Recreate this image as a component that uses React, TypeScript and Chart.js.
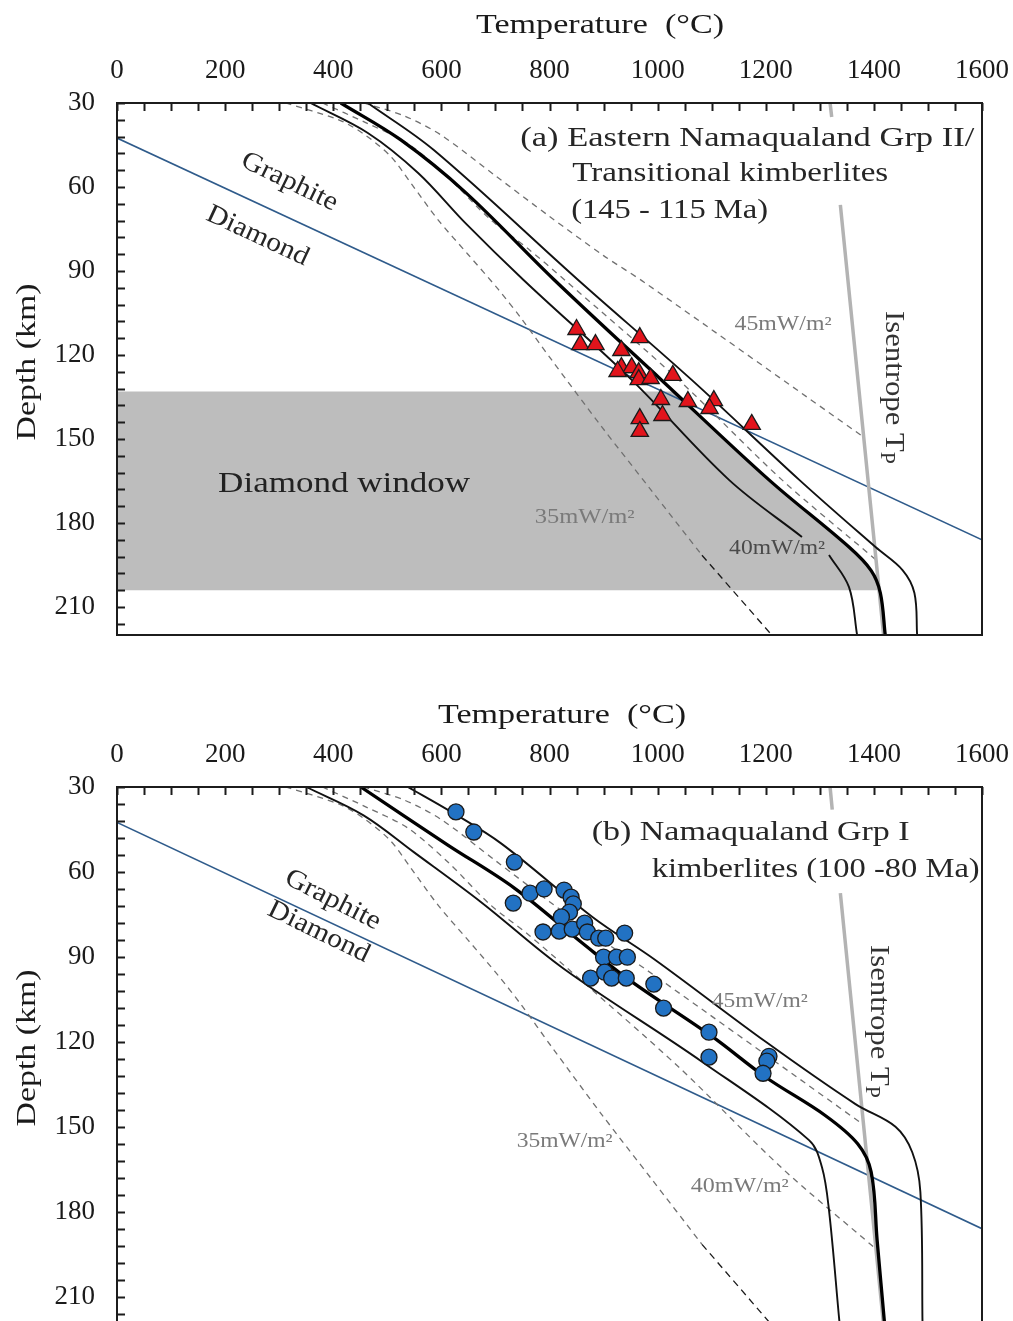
import { useEffect, useRef } from 'react';
import { Chart, registerables } from 'chart.js';

Chart.register(...registerables);

type Pt = [number, number] | null;

const FONT = '"Liberation Serif", "DejaVu Serif", serif';
Chart.defaults.font.family = FONT;

// ---- axes ----
const TEMP_LABELS = [0, 200, 400, 600, 800, 1000, 1200, 1400, 1600];
const DEPTH_LABELS = [30, 60, 90, 120, 150, 180, 210];
const TEMP_RANGE = [0, 1600];
const DEPTH_RANGE = [30, 220];
const TEMP_MINOR_STEP = 50;
const DEPTH_MINOR_STEP = 6;

// ---- shared reference curves [temperature °C, depth km] ----
const GRAPHITE_DIAMOND: Pt[] = [[0, 42.5], [1600, 186]];
const GEOTHERM_35: Pt[] = [[312, 30], [410, 36], [456, 41], [506, 49], [545, 59], [595, 72], [649, 84], [705, 96.5], [748, 107], [803, 121.5], [896, 145.5], [989, 168.5], [1082, 191.5], [1211, 220]];
const GEOTHERM_35_DARK_FROM = 191.5;
const GEOTHERM_40: Pt[] = [[380, 30], [460, 37], [538, 44.5], [612, 56.5], [690, 71.5], [760, 82], [830, 93.5], [1039, 128.9], [1230, 164.6], [1403, 193]];
const GEOTHERM_45: Pt[] = [[456, 30], [530, 34.5], [599, 41.4], [700, 56], [800, 70.5], [900, 84.5], [975, 94], [1381, 149.3]];

// ---- panel (a) ----
const ISENTROPE_A: Pt[] = [[1319, 30], [1322, 35], null, [1338, 66.4], [1418, 220]];
const A_LOW: Pt[] = [[358, 30], [464, 40.7], [557, 55], [645, 73], [752, 93.2], [952, 128.9], [1132, 164.6], [1267, 185], null, [1317, 191.4], [1354, 202.9], [1369, 220]];
const A_FIT: Pt[] = [[414, 30], [525, 43.2], [645, 62], [809, 93.2], [1007, 128.9], [1206, 164.6], [1354, 188.6], [1395, 197], [1412, 205], [1421, 220]];
const A_HIGH: Pt[] = [[464, 30], [586, 46.8], [853, 93.2], [1063, 128.9], [1262, 164.6], [1403, 188.6], [1453, 196.8], [1475, 205], [1480, 220]];
const A_SAMPLES: Pt[] = [[850, 110.9], [857, 116.3], [885, 116.3], [967, 113.8], [933, 118.4], [933, 124.5], [952, 124.5], [965, 126.3], [926, 125.9], [965, 128.8], [987, 128.4], [1028, 127.3], [1006, 135.9], [1056, 136.6], [1104, 136.3], [1096, 139.1], [1174, 144.8], [967, 142.7], [1009, 141.6], [967, 147.3]];
const DIAMOND_WINDOW = [133, 204];

// ---- panel (b) ----
const ISENTROPE_B: Pt[] = [[1319, 30], [1323, 38], null, [1338, 67.5], [1418, 220]];
const B_LOW: Pt[] = [[350, 30], [456, 40], [549, 53], [673, 70.6], [825, 94], [1082, 127], [1280, 154.7], [1304, 164.3], [1317, 179.5], [1336, 218.3], [1337, 220]];
const B_FIT: Pt[] = [[451, 30], [612, 50.5], [735, 65.7], [860, 85], [950, 98.5], [1100, 118], [1200, 132.5], [1310, 146], [1370, 156], [1395, 166], [1406, 190], [1420, 220]];
const B_HIGH: Pt[] = [[538, 30], [620, 39], [711, 50], [880, 76], [995, 91], [1200, 120], [1366, 142], [1440, 150], [1471, 159], [1486, 173], [1490, 220]];
const B_SAMPLES: Pt[] = [[627, 38.8], [660, 45.9], [735, 56.5], [733, 71], [764, 67.5], [790, 66], [827, 66.4], [840, 68.9], [844, 71.3], [837, 74.2], [822, 75.9], [788, 81.2], [818, 80.9], [842, 80.2], [865, 78.1], [870, 81.2], [891, 83.4], [904, 83.4], [939, 81.6], [900, 90.1], [924, 90.1], [944, 90.1], [876, 97.5], [902, 95.4], [915, 97.5], [942, 97.5], [993, 99.6], [1011, 108.1], [1095, 116.6], [1095, 125.4], [1206, 125.1], [1202, 126.8], [1195, 131.1]];

// ---- helpers ----
const toXY = (pts: Pt[]) => pts.map((p) => (p ? { x: p[0], y: p[1] } : { x: null, y: null }));

function tempAtDepth(curve: Pt[], d: number): number {
  const pts = curve.filter(Boolean) as [number, number][];
  for (let i = 0; i < pts.length - 1; i++) {
    const [t0, d0] = pts[i];
    const [t1, d1] = pts[i + 1];
    if (d >= d0 && d <= d1) return t0 + ((t1 - t0) * (d - d0)) / (d1 - d0);
  }
  return pts[pts.length - 1][0];
}

function windowPolygon(curve: Pt[], range: number[]): Pt[] {
  const [dTop, dBot] = range;
  const inner = (curve.filter(Boolean) as [number, number][]).filter((p) => p[1] > dTop && p[1] < dBot);
  return [[TEMP_RANGE[0], dTop], [tempAtDepth(curve, dTop), dTop], ...inner, [tempAtDepth(curve, dBot), dBot], [TEMP_RANGE[0], dBot]];
}

function lineDs(pts: Pt[], color: string, width: number, dash: number[], order: number, tension = 0.35) {
  return {
    data: toXY(pts),
    showLine: true,
    borderColor: color,
    borderWidth: width,
    borderDash: dash,
    pointRadius: 0,
    pointHoverRadius: 0,
    fill: false,
    spanGaps: false,
    tension,
    order,
  };
}

type Label = {
  text: string;
  sub?: string;
  x: number;
  y: number;
  px?: boolean;
  size: number;
  width: number;
  rot?: number;
  color?: string;
  align?: 'left' | 'center';
  baseline?: CanvasTextBaseline;
};

function labelsPlugin(labels: Label[]) {
  return {
    id: 'textLabels',
    afterDraw(chart: any) {
      const { ctx } = chart;
      const xs = chart.scales.x;
      const ys = chart.scales.y;
      for (const lb of labels) {
        const px = lb.px ? lb.x : xs.getPixelForValue(lb.x);
        const py = lb.px ? lb.y : ys.getPixelForValue(lb.y);
        ctx.save();
        ctx.translate(px, py);
        ctx.rotate(((lb.rot || 0) * Math.PI) / 180);
        ctx.font = `${lb.size}px ${FONT}`;
        const mainW = ctx.measureText(lb.text).width;
        let subW = 0;
        const subSize = Math.round(lb.size * 0.7);
        if (lb.sub) {
          ctx.font = `${subSize}px ${FONT}`;
          subW = ctx.measureText(lb.sub).width;
        }
        const natural = mainW + subW;
        ctx.scale(lb.width / natural, 1);
        const startX = lb.align === 'center' ? -natural / 2 : 0;
        ctx.fillStyle = lb.color || '#262626';
        ctx.textAlign = 'left';
        ctx.textBaseline = lb.baseline || 'alphabetic';
        ctx.font = `${lb.size}px ${FONT}`;
        ctx.fillText(lb.text, startX, 0);
        if (lb.sub) {
          ctx.font = `${subSize}px ${FONT}`;
          ctx.fillText(lb.sub, startX + mainW, lb.size * 0.25);
        }
        ctx.restore();
      }
    },
  };
}

const framePlugin = {
  id: 'frameTicks',
  afterDraw(chart: any) {
    const { ctx, chartArea: a } = chart;
    const xs = chart.scales.x;
    const ys = chart.scales.y;
    ctx.save();
    ctx.strokeStyle = '#1c1c1c';
    ctx.lineWidth = 2;
    ctx.strokeRect(a.left, a.top, a.right - a.left, a.bottom - a.top);
    ctx.beginPath();
    for (let v = TEMP_RANGE[0]; v <= TEMP_RANGE[1]; v += TEMP_MINOR_STEP) {
      const p = Math.round(xs.getPixelForValue(v)) + 0.5;
      ctx.moveTo(p, a.top);
      ctx.lineTo(p, a.top + 8);
    }
    for (let v = DEPTH_RANGE[0]; v < DEPTH_RANGE[1]; v += DEPTH_MINOR_STEP) {
      const p = Math.round(ys.getPixelForValue(v)) + 0.5;
      ctx.moveTo(a.left, p);
      ctx.lineTo(a.left + 8, p);
    }
    ctx.stroke();
    ctx.restore();
  },
};

type Panel = {
  low: Pt[];
  fit: Pt[];
  high: Pt[];
  isentrope: Pt[];
  samples: Pt[];
  marker: 'triangle' | 'circle';
  window?: number[];
  labels: Label[];
  axisTop: number;
  padBottom: number;
};

function makeConfig(p: Panel): any {
  const datasets: any[] = [];
  if (p.window) {
    datasets.push({
      data: toXY(windowPolygon(p.fit, p.window)),
      showLine: true,
      borderColor: 'rgba(0,0,0,0)',
      borderWidth: 1,
      backgroundColor: '#bdbdbd',
      fill: 'shape',
      pointRadius: 0,
      tension: 0,
      order: 20,
    });
  }
  datasets.push(lineDs(GRAPHITE_DIAMOND, '#2f5b8b', 1.6, [], 12, 0));
  const g35 = GEOTHERM_35 as [number, number][];
  datasets.push(lineDs(g35.filter((q) => q[1] <= GEOTHERM_35_DARK_FROM), '#707070', 1.3, [6, 5], 11, 0.3));
  datasets.push(lineDs(g35.filter((q) => q[1] >= GEOTHERM_35_DARK_FROM), '#1a1a1a', 1.3, [7, 5], 11, 0));
  datasets.push(lineDs(GEOTHERM_40, '#707070', 1.3, [6, 5], 11, 0.3));
  datasets.push(lineDs(GEOTHERM_45, '#707070', 1.3, [6, 5], 11, 0.3));
  datasets.push(lineDs(p.isentrope, '#b3b3b3', 3.5, [], 10, 0));
  datasets.push(lineDs(p.low, '#111111', 1.9, [], 8));
  datasets.push(lineDs(p.high, '#111111', 1.9, [], 8));
  datasets.push(lineDs(p.fit, '#000000', 3.3, [], 7));
  datasets.push({
    data: toXY(p.samples),
    showLine: false,
    pointStyle: p.marker,
    pointRadius: p.marker === 'triangle' ? 10 : 8,
    pointHoverRadius: p.marker === 'triangle' ? 10 : 8,
    backgroundColor: p.marker === 'triangle' ? '#e2141c' : '#2272c3',
    borderColor: '#1a1a1a',
    borderWidth: 1.3,
    order: 1,
  });

  const tickFont = { family: FONT, size: 27 };
  return {
    type: 'scatter',
    data: { datasets },
    options: {
      responsive: false,
      maintainAspectRatio: false,
      animation: false,
      events: [],
      layout: { padding: { left: 0, top: 0, right: 31, bottom: p.padBottom } },
      plugins: { legend: { display: false }, tooltip: { enabled: false } },
      scales: {
        x: {
          type: 'linear',
          position: 'top',
          min: TEMP_RANGE[0],
          max: TEMP_RANGE[1],
          grid: { display: false, drawTicks: false },
          border: { display: false },
          ticks: { font: tickFont, color: '#1a1a1a', padding: 16, maxRotation: 0, autoSkip: false, callback: (v: any) => String(v) },
          afterBuildTicks: (s: any) => {
            s.ticks = TEMP_LABELS.map((v) => ({ value: v }));
          },
          afterFit: (s: any) => {
            s.height = p.axisTop;
            s.paddingLeft = 0;
            s.paddingRight = 0;
          },
        },
        y: {
          type: 'linear',
          reverse: true,
          min: DEPTH_RANGE[0],
          max: DEPTH_RANGE[1],
          grid: { display: false, drawTicks: false },
          border: { display: false },
          ticks: { font: tickFont, color: '#1a1a1a', padding: 22, autoSkip: false, callback: (v: any) => String(v) },
          afterBuildTicks: (s: any) => {
            s.ticks = DEPTH_LABELS.map((v) => ({ value: v }));
          },
          afterFit: (s: any) => {
            s.width = 117;
            s.paddingTop = 0;
            s.paddingBottom = 0;
          },
        },
      },
    },
    plugins: [framePlugin, labelsPlugin(p.labels)],
  };
}

const MW_GRAY = '#7a7a7a';

const LABELS_A: Label[] = [
  { text: 'Temperature  (°C)', x: 600, y: 26, px: true, size: 28, width: 248, align: 'center', baseline: 'middle', color: '#1a1a1a' },
  { text: 'Depth (km)', x: 28, y: 362, px: true, size: 28, width: 157, rot: -90, align: 'center', baseline: 'middle', color: '#1a1a1a' },
  { text: '(a) Eastern Namaqualand Grp II/', x: 746, y: 45.2, size: 28, width: 454 },
  { text: 'Transitional kimberlites', x: 842, y: 57.9, size: 28, width: 316 },
  { text: '(145 - 115 Ma)', x: 840, y: 71.1, size: 28, width: 197 },
  { text: 'Graphite', x: 319, y: 58.2, size: 27, width: 104, rot: 26, align: 'center', baseline: 'middle' },
  { text: 'Diamond', x: 260, y: 77.5, size: 27, width: 110, rot: 25, align: 'center', baseline: 'middle' },
  { text: 'Diamond window', x: 187, y: 168.9, size: 30, width: 252, color: '#222' },
  { text: '45mW/m²', x: 1232, y: 109.3, size: 20, width: 97, align: 'center', baseline: 'middle', color: MW_GRAY },
  { text: '35mW/m²', x: 865, y: 178.2, size: 20, width: 100, align: 'center', baseline: 'middle', color: MW_GRAY },
  { text: '40mW/m²', x: 1221, y: 189.3, size: 20, width: 96, align: 'center', baseline: 'middle', color: '#4a4a4a' },
  { text: 'Isentrope T', sub: 'P', x: 1436, y: 104.3, size: 28, width: 153, rot: 90, baseline: 'middle', color: '#333' },
];

const LABELS_B: Label[] = [
  { text: 'Temperature  (°C)', x: 562, y: 66, px: true, size: 28, width: 248, align: 'center', baseline: 'middle', color: '#1a1a1a' },
  { text: 'Depth (km)', x: 28, y: 398, px: true, size: 28, width: 157, rot: -90, align: 'center', baseline: 'middle', color: '#1a1a1a' },
  { text: '(b) Namaqualand Grp I', x: 878, y: 48.7, size: 28, width: 318 },
  { text: 'kimberlites (100 -80 Ma)', x: 989, y: 61.8, size: 28, width: 328 },
  { text: 'Graphite', x: 399, y: 69.9, size: 27, width: 104, rot: 27, align: 'center', baseline: 'middle' },
  { text: 'Diamond', x: 373, y: 81.2, size: 27, width: 110, rot: 26, align: 'center', baseline: 'middle' },
  { text: '45mW/m²', x: 1189, y: 106, size: 20, width: 96, align: 'center', baseline: 'middle', color: MW_GRAY },
  { text: '35mW/m²', x: 828, y: 155.4, size: 20, width: 96, align: 'center', baseline: 'middle', color: MW_GRAY },
  { text: '40mW/m²', x: 1152, y: 171.3, size: 20, width: 98, align: 'center', baseline: 'middle', color: MW_GRAY },
  { text: 'Isentrope T', sub: 'P', x: 1408, y: 85.8, size: 28, width: 153, rot: 90, baseline: 'middle', color: '#333' },
];

export default function App() {
  const topRef = useRef<HTMLCanvasElement>(null);
  const botRef = useRef<HTMLCanvasElement>(null);

  useEffect(() => {
    const a = new Chart(
      topRef.current as HTMLCanvasElement,
      makeConfig({ low: A_LOW, fit: A_FIT, high: A_HIGH, isentrope: ISENTROPE_A, samples: A_SAMPLES, marker: 'triangle', window: DIAMOND_WINDOW, labels: LABELS_A, axisTop: 103, padBottom: 15 })
    );
    const b = new Chart(
      botRef.current as HTMLCanvasElement,
      makeConfig({ low: B_LOW, fit: B_FIT, high: B_HIGH, isentrope: ISENTROPE_B, samples: B_SAMPLES, marker: 'circle', labels: LABELS_B, axisTop: 137, padBottom: 15 })
    );
    return () => {
      a.destroy();
      b.destroy();
    };
  }, []);

  return (
    <div style={{ position: 'absolute', left: 0, top: 0, width: 1013, height: 1321, overflow: 'hidden', background: '#ffffff' }}>
      <canvas ref={topRef} width={1013} height={650} style={{ position: 'absolute', left: 0, top: 0 }} />
      <canvas ref={botRef} width={1013} height={690} style={{ position: 'absolute', left: 0, top: 650 }} />
    </div>
  );
}
